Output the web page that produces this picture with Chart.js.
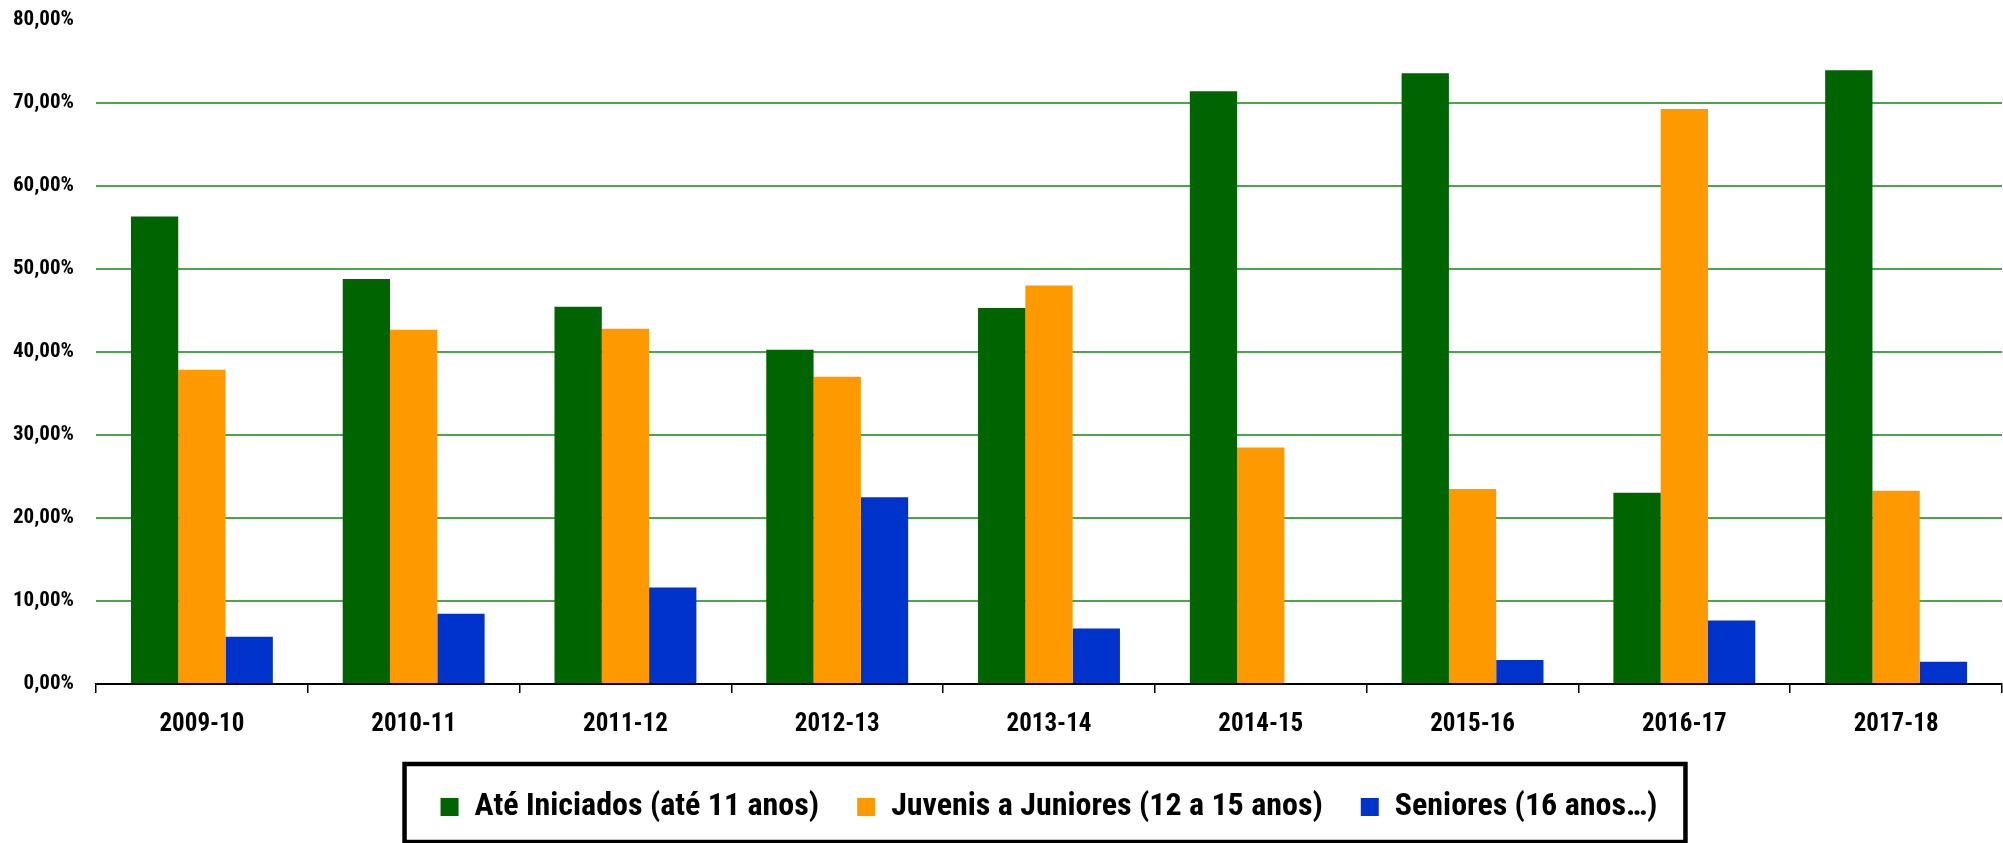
<!DOCTYPE html>
<html>
<head>
<meta charset="utf-8">
<script src="https://cdn.jsdelivr.net/npm/chart.js@4"></script>
<style>
  html, body { margin: 0; padding: 0; background: #fff; }
  #wrap { width: 2003px; height: 843px; position: relative; }
</style>
</head>
<body>
<div id="wrap"><canvas id="escaloesChart"></canvas></div>
<script>
// DATA
const categorias = ['2009-10', '2010-11', '2011-12', '2012-13', '2013-14', '2014-15', '2015-16', '2016-17', '2017-18'];
const ateIniciados = [56.30, 48.76, 45.43, 40.25, 45.27, 71.36, 73.53, 23.03, 73.89];
const juvenisJuniores = [37.85, 42.66, 42.78, 37.00, 47.98, 28.49, 23.48, 69.23, 23.28];
const seniores = [5.68, 8.45, 11.61, 22.48, 6.68, 0, 2.88, 7.64, 2.68];
const nomesSeries = ['Até Iniciados (até 11 anos)', 'Juvenis a Juniores (12 a 15 anos)', 'Seniores (16 anos…)'];

const fonte = "'Roboto Condensed', 'Liberation Sans Narrow', 'DejaVu Sans Condensed', sans-serif";

// draws the black frame around the legend
const molduraLegenda = {
    id: 'molduraLegenda',
    afterDraw(chart) {
        const boxes = chart.legend.legendHitBoxes;
        if (!boxes || !boxes.length) return;
        const first = boxes[0];
        const last = boxes[boxes.length - 1];
        const x1 = first.left - 36;
        const x2 = last.left + last.width + 28;
        const y1 = first.top - 27;
        const y2 = chart.height - 1;
        const ctx = chart.ctx;
        ctx.save();
        ctx.strokeStyle = '#000';
        ctx.lineWidth = 4.5;
        ctx.strokeRect(x1, y1, x2 - x1, y2 - y1);
        ctx.restore();
    }
};

var ctx = document.getElementById('escaloesChart').getContext('2d');
var chart = new Chart(ctx, {
    type: 'bar',
    data: {
        labels: categorias,
        datasets: [{
            label: nomesSeries[0],
            backgroundColor: '#006400',
            data: ateIniciados
        }, {
            label: nomesSeries[1],
            backgroundColor: '#FF9900',
            data: juvenisJuniores
        }, {
            label: nomesSeries[2],
            backgroundColor: '#0033CC',
            data: seniores
        }]
    },
    options: {
        responsive: true,
        maintainAspectRatio: false,
        animation: false,
        layout: { padding: { top: 0, right: 1, bottom: 10, left: 0 } },
        datasets: {
            bar: { barPercentage: 1, categoryPercentage: 0.67, borderWidth: 0 }
        },
        plugins: {
            tooltip: { enabled: false },
            legend: {
                position: 'bottom',
                fullSize: false,
                labels: {
                    boxWidth: 18,
                    boxHeight: 18,
                    padding: 38,
                    color: '#000',
                    font: { family: fonte, size: 32, weight: 'bold' }
                }
            }
        },
        scales: {
            x: {
                grid: {
                    drawOnChartArea: false,
                    color: '#000',
                    lineWidth: 1.5,
                    tickLength: 9
                },
                border: { color: '#000', width: 2 },
                ticks: {
                    color: '#000',
                    padding: 17,
                    font: { family: fonte, size: 25, weight: 'bold' }
                },
                afterFit: function(scale) { scale.height = 69; }
            },
            y: {
                min: 0,
                max: 80,
                grid: {
                    lineWidth: 2,
                    tickLength: 15,
                    tickColor: 'rgba(0,0,0,0)',
                    color: function(c) {
                        // no line at 0 (axis) or at the top
                        if (c.tick && (c.tick.value === 0 || c.tick.value === 80)) return 'rgba(0,0,0,0)';
                        return '#4aa64a';
                    }
                },
                border: { display: false },
                ticks: {
                    stepSize: 10,
                    color: '#000',
                    padding: 7,
                    font: { family: fonte, size: 21, weight: 'bold' },
                    callback: function(v) { return v.toFixed(2).replace('.', ',') + '%'; }
                },
                afterFit: function(scale) { scale.width = 96; }
            }
        }
    },
    plugins: [molduraLegenda]
});
</script>
</body>
</html>
